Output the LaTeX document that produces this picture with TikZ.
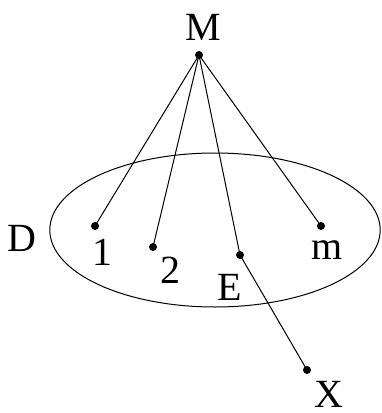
\documentclass[tikz,border=0pt]{standalone}
\usepackage{fontspec}
\setmainfont{Liberation Serif}
\begin{document}
\begin{tikzpicture}[x=0.5pt, y=-0.5pt, font=\fontsize{20}{24}\selectfont]
    \tikzset{pt/.style={circle, fill=black, inner sep=0pt, minimum size=4pt}}
    \useasboundingbox (0,0) rectangle (381,413);

    % Region D
    \draw[line width=0.5pt] (215,230) ellipse [x radius=82.6pt, y radius=38.5pt];
    \node (lblD) at (22,238) {D};

    % Points
    \node[pt] (M) at (199,55) {};
    \node[pt] (p1) at (95,226) {};
    \node[pt] (p2) at (153,247) {};
    \node[pt] (E) at (240,255) {};
    \node[pt] (pm) at (321,226) {};
    \node[pt] (X) at (307,370) {};

    % Labels
    \node (lblM) at (203,27) {M};
    \node (lbl1) at (102,252) {1};
    \node (lbl2) at (170,270) {2};
    \node (lblE) at (230,287) {E};
    \node (lblm) at (327,250) {m};
    \node (lblX) at (329,394) {X};

    % Connections
    \draw[line width=0.5pt] (M.center) -- (p1.center);
    \draw[line width=0.5pt] (M.center) -- (p2.center);
    \draw[line width=0.5pt] (M.center) -- (E.center);
    \draw[line width=0.5pt] (M.center) -- (pm.center);
    \draw[line width=0.5pt] (E.center) -- (X.center);
\end{tikzpicture}
\end{document}
